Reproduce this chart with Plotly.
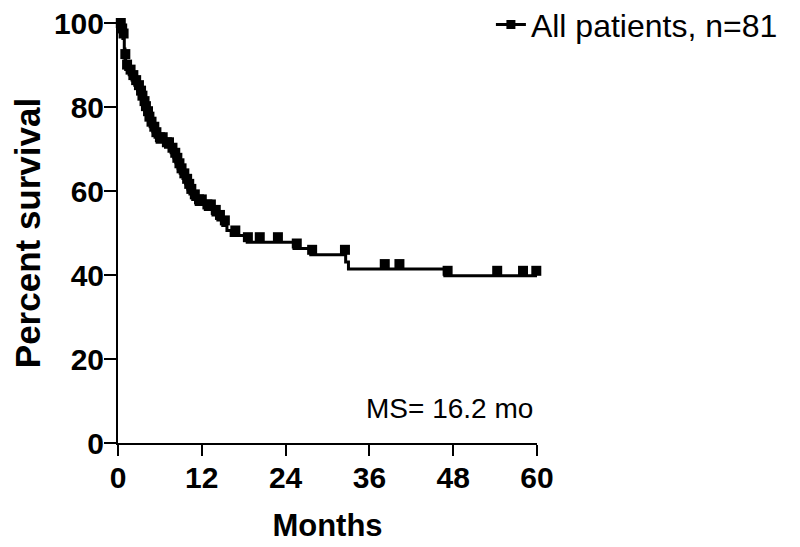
import plotly.graph_objects as go

# Kaplan-Meier steps (time in months, survival % after each drop)
event_times = [0.3, 0.5, 0.7, 0.9, 1.0, 1.1, 1.6, 2.0, 2.4, 2.8, 3.1, 3.4, 3.6, 3.9,
               4.1, 4.4, 4.6, 5.0, 5.3, 5.6, 6.8, 7.6, 8.0, 8.3, 8.6, 8.9, 9.3, 9.7,
               10.0, 10.3, 10.7, 11.2, 12.5, 13.6, 14.3, 15.0, 15.6, 16.2, 18.5,
               25.2, 27.6, 32.6, 33.0, 46.8]
event_surv = [98.8, 97.5, 96.3, 93.8, 91.4, 88.9, 87.7, 86.4, 85.2, 84.0, 82.7, 81.5,
              80.2, 79.0, 77.8, 76.5, 75.3, 74.1, 72.8, 71.6, 70.4, 69.1, 67.9, 66.7,
              65.4, 64.2, 63.0, 61.7, 60.5, 59.3, 58.0, 56.8, 55.6, 54.3, 53.1, 51.8,
              50.6, 49.4, 47.8, 46.3, 44.8, 43.1, 41.4, 39.8]
censor_times = [0.1, 0.4, 0.6, 0.8, 1.05, 1.3, 1.8, 2.2, 2.6, 3.0, 3.3, 3.5, 3.8, 4.0,
                4.3, 4.5, 4.8, 5.2, 5.5, 6.0, 6.4, 7.0, 7.3, 7.8, 8.2, 8.5, 8.8, 9.1,
                9.5, 9.9, 10.2, 10.5, 11.0, 11.6, 12.0, 12.8, 13.3, 14.0, 14.6, 15.3,
                16.8, 18.6, 20.3, 22.9, 25.6, 27.8, 32.5, 38.2, 40.3, 47.2, 54.3,
                58.0, 59.9]
x_ticks = [0, 12, 24, 36, 48, 60]
y_ticks = [0, 20, 40, 60, 80, 100]
end_time = 60


def surv_at(t):
    s = 100.0
    for et, es in zip(event_times, event_surv):
        if et <= t:
            s = es
    return s


step_x = [0] + event_times + [end_time]
step_y = [100] + event_surv + [event_surv[-1]]
mark_offset = 1.2
censor_y = [surv_at(t) + mark_offset for t in censor_times]

FONT = "Liberation Sans, Arial, Helvetica, sans-serif"

fig = go.Figure()
fig.add_trace(go.Scatter(x=step_x, y=step_y, mode="lines", line_shape="hv",
                         line=dict(color="black", width=3), showlegend=False,
                         hoverinfo="skip", cliponaxis=False))
fig.add_trace(go.Scatter(x=censor_times, y=censor_y, mode="markers",
                         marker=dict(symbol="square", size=10, color="black"),
                         showlegend=False, cliponaxis=False))
fig.add_trace(go.Scatter(x=[None], y=[None], mode="lines+markers",
                         name="All patients, n=81",
                         line=dict(color="black", width=3),
                         marker=dict(symbol="square", size=9, color="black")))

fig.add_annotation(text="MS= 16.2 mo", xref="paper", yref="y", x=0.995, y=8.2,
                   xanchor="right", yanchor="middle", showarrow=False,
                   font=dict(family=FONT, size=28, color="black"))

fig.update_layout(
    width=792, height=538,
    margin=dict(l=110, r=263, t=15, b=103, autoexpand=False),
    plot_bgcolor="white", paper_bgcolor="white",
    font=dict(family=FONT, color="black"),
    legend=dict(x=0.89, y=0.996, xanchor="left", yanchor="middle",
                font=dict(family=FONT, size=32, color="black"),
                bgcolor="rgba(0,0,0,0)"),
    xaxis=dict(range=[0, 60], tickvals=x_ticks, ticks="outside", ticklen=11,
               tickwidth=2, tickcolor="black", showline=True, linewidth=2,
               linecolor="black", showgrid=False, zeroline=False, automargin=False,
               ticklabelstandoff=-4, ticklabeloverflow="allow",
               tickfont=dict(family=FONT, size=30, weight="bold"),
               title=dict(text="Months", standoff=21,
                          font=dict(family=FONT, size=31, weight="bold"))),
    yaxis=dict(range=[0, 100], tickvals=y_ticks, ticks="outside", ticklen=12,
               tickwidth=2, tickcolor="black", showline=True, linewidth=2,
               linecolor="black", showgrid=False, zeroline=False, automargin=False,
               ticklabelstandoff=-6, ticklabeloverflow="allow",
               tickfont=dict(family=FONT, size=30, weight="bold"),
               title=dict(text="Percent survival", standoff=23,
                          font=dict(family=FONT, size=35, weight="bold"))),
)

fig.write_html("out.html")
